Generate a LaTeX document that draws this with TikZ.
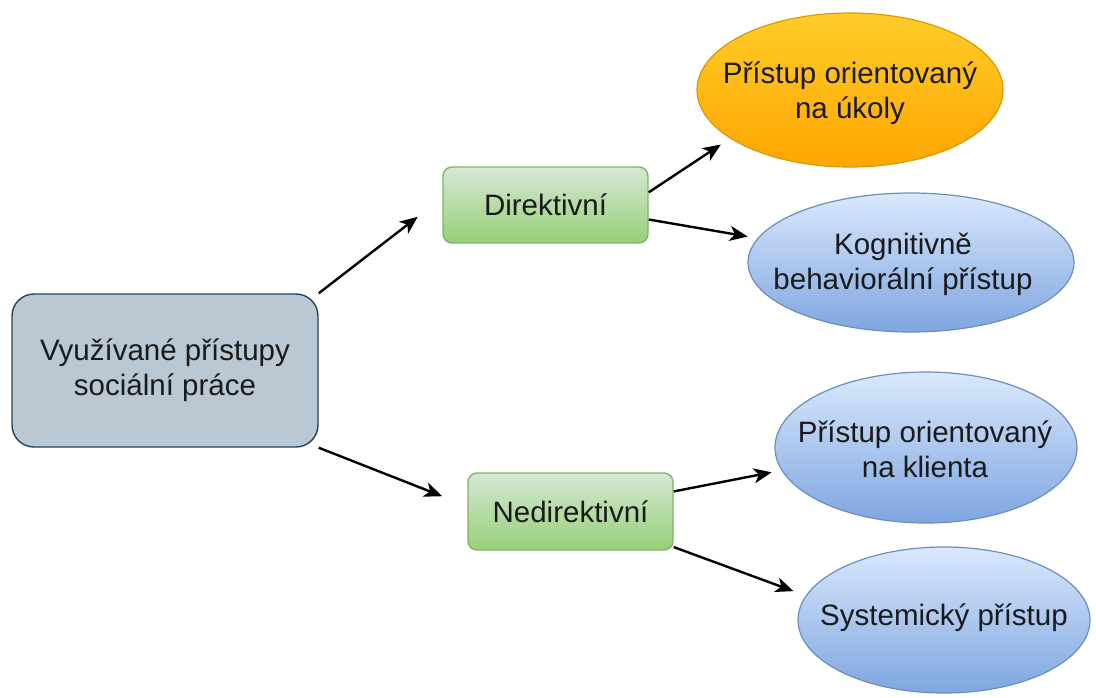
\documentclass[tikz,border=0pt]{standalone}
\usepackage{fontspec}
\setmainfont{Liberation Sans}
\usetikzlibrary{shapes.geometric,arrows.meta}
\definecolor{mainfill}{HTML}{BAC8D3}
\definecolor{mainline}{HTML}{23445D}
\definecolor{greentop}{HTML}{D5E8D4}
\definecolor{greenbot}{HTML}{97D077}
\definecolor{greenline}{HTML}{82B366}
\definecolor{orangetop}{HTML}{FFCD28}
\definecolor{orangebot}{HTML}{FFA500}
\definecolor{orangeline}{HTML}{D79B00}
\definecolor{bluetop}{HTML}{DAE8FC}
\definecolor{bluebot}{HTML}{7EA6E0}
\definecolor{blueline}{HTML}{6C8EBF}
\definecolor{txt}{HTML}{1A1A1A}
\tikzset{
  lbl/.style={font=\fontsize{29.5}{35}\selectfont, text=txt, align=center, inner sep=0pt},
  mainbox/.style={lbl, draw=mainline, fill=mainfill, line width=1.4pt, rounded corners=22pt, minimum width=306pt, minimum height=153pt},
  greenbox/.style={lbl, draw=greenline, top color=greentop, bottom color=greenbot, line width=1.4pt, rounded corners=9pt, minimum width=205pt, minimum height=76pt},
  orangeell/.style={ellipse, inner sep=0pt, draw=orangeline, top color=orangetop, bottom color=orangebot, line width=1.2pt},
  blueell/.style={ellipse, inner sep=0pt, draw=blueline, top color=bluetop, bottom color=bluebot, line width=1.2pt},
  arr/.style={line width=2.4pt, draw=black, -{Stealth[length=18pt,width=15pt,inset=5pt]}}
}
\begin{document}
\begin{tikzpicture}[x=1pt,y=-1pt]
\useasboundingbox (0,0) rectangle (1096,697);
\fill[white] (0,0) rectangle (1096,697);

\node[mainbox] (main) at (165,370.5) {Využívané přístupy\\sociální práce};
\node[greenbox] (dir) at (545.5,205) {Direktivní};
\node[greenbox, minimum height=77pt] (ned) at (570.5,511.5) {Nedirektivní};

\node[orangeell, minimum width=306pt, minimum height=154pt] (ukoly) at (850,90) {};
\node[lbl] (ukolyt) at (850,93) {Přístup orientovaný\\na úkoly};
\node[blueell, minimum width=326pt, minimum height=139pt] (kog) at (911,262.5) {};
\node[lbl] (kogt) at (903,264) {Kognitivně\\behaviorální přístup};
\node[blueell, minimum width=302pt, minimum height=151pt] (klient) at (926,447.5) {};
\node[lbl] (klientt) at (925,449.5) {Přístup orientovaný\\na klienta};
\node[blueell, minimum width=292pt, minimum height=146pt] (sys) at (944,620) {};
\node[lbl] (syst) at (944,618) {Systemický přístup};

\draw[arr, shorten >=31pt] (main.north east) -- (dir.176.6);
\draw[arr, shorten >=27pt] (main.south east) -- (ned.177.5);
\draw[arr, shorten >=11pt] (dir.7) -- (ukoly.202.5);
\draw[arr, shorten >=10pt] (dir.-8.3) -- (kog.171.9);
\draw[arr, shorten >=10pt] (ned.11.8) -- (klient.189.3);
\draw[arr, shorten >=13pt] (ned.-19.6) -- (sys.170.8);
\end{tikzpicture}
\end{document}
